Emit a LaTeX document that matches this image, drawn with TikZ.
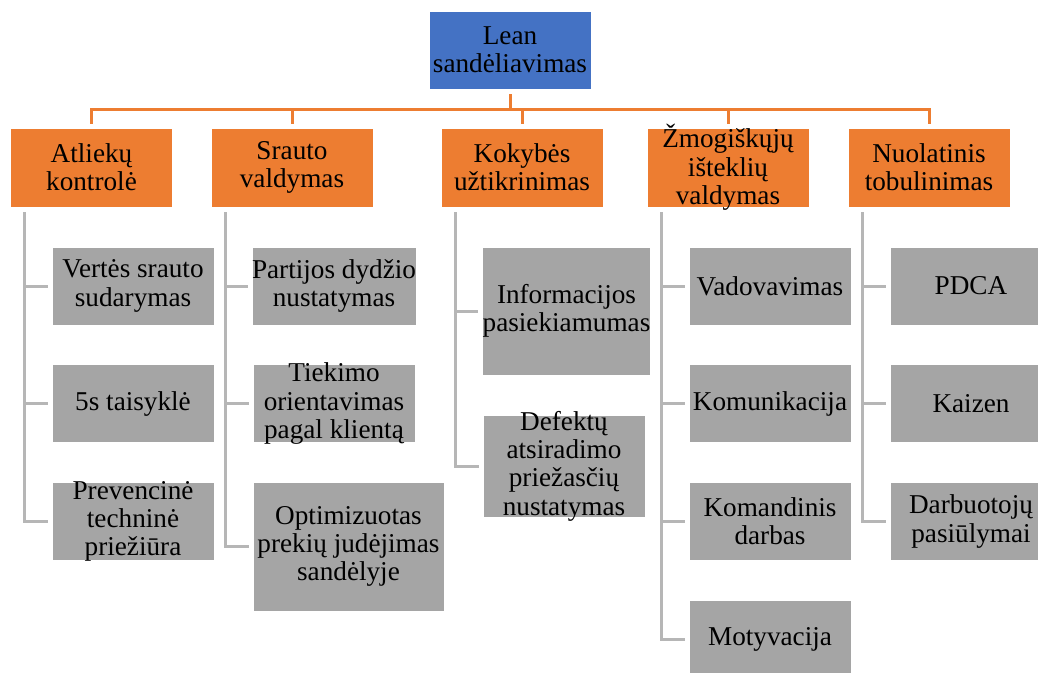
\documentclass[tikz,border=0pt]{standalone}
\usepackage{fontspec}
\setmainfont{Liberation Serif}
\usetikzlibrary{calc}
\definecolor{leanblue}{HTML}{4472C4}
\definecolor{leanorange}{HTML}{ED7D31}
\definecolor{leangrey}{HTML}{A5A5A5}
\definecolor{spinegrey}{RGB}{182,182,182}
\tikzset{
  box/.style={inner xsep=0pt, inner ysep=-4pt, align=center, draw=white, line width=0.6pt,
    minimum width=121.5pt, minimum height=58.5pt,
    font=\fontsize{20.4}{21.2}\selectfont},
  rootbox/.style={box, fill=leanblue},
  topic/.style={box, fill=leanorange, minimum height=59.25pt},
  item/.style={box, fill=leangrey},
  bus/.style={draw=leanorange, line width=2.25pt},
  spine/.style={draw=spinegrey, line width=2.25pt},
}
\begin{document}
\begin{tikzpicture}[x=0.75pt,y=-0.75pt]
  \path[use as bounding box, clip] (0,0) rectangle (1038,672);

  % virsune
  \node[rootbox] (root) at (510,50) {Lean\\sandėliavimas};

  % oranzines temos
  \node[topic] (a) at (91.5,167.5) {Atliekų\\kontrolė};
  \node[topic] (b) at (292,167.5) {Srauto\\valdymas};
  \node[topic] (c) at (522,167.5) {Kokybės\\užtikrinimas};
  \node[topic] (d) at (728,167.5) {Žmogiškųjų\\išteklių\\valdymas};
  \node[topic] (e) at (929,167.5) {Nuolatinis\\tobulinimas};

  % pilki punktai (stulpelis po stulpelio)
  \node[item] (a1) at (133,286) {Vertės srauto\\sudarymas};
  \node[item] (a2) at (133,403.5) {5s taisyklė};
  \node[item] (a3) at (133,521.5) {Prevencinė\\techninė\\priežiūra};

  \node[item] (b1) at (334,286) {Partijos dydžio\\nustatymas};
  \node[item] (b2) at (334,403.5) {Tiekimo\\orientavimas\\pagal klientą};
  \node[item, minimum width=143.25pt, minimum height=96.75pt] (b3) at (348.5,546.5) {Optimizuotas\\prekių judėjimas\\sandėlyje};

  \node[item, minimum width=125.25pt, minimum height=96pt] (c1) at (566.5,311) {Informacijos\\pasiekiamumas};
  \node[item, minimum height=76.5pt] (c2) at (564,466) {Defektų\\atsiradimo\\priežasčių\\nustatymas};

  \node[item] (d1) at (770,286) {Vadovavimas};
  \node[item] (d2) at (770,403.5) {Komunikacija};
  \node[item] (d3) at (770,521.5) {Komandinis\\darbas};
  \node[item] (d4) at (770,639.5) {Motyvacija};

  \node[item] (e1) at (971,286) {PDCA};
  \node[item] (e2) at (971,403.5) {Kaizen};
  \node[item] (e3) at (971,521.5) {Darbuotojų\\pasiūlymai};

  % oranzine magistrale
  \coordinate (bus) at (510,109);
  \draw[bus, shorten <=3.75pt] (root.south) -- (bus);
  \foreach \t in {a,b,c,d,e}
    \draw[bus, shorten >=3pt] (bus) -| (\t.north);

  % pilkos saknys
  \foreach \t/\last/\items in {a/a3/{a1,a2}, b/b3/{b1,b2}, c/c2/{c1}, d/d4/{d1,d2,d3}, e/e3/{e1,e2}} {
    \coordinate (s\t) at ($(\t.south west)+(14.5,5)$);
    \draw[spine, shorten >=3pt] (s\t) |- (\last.west);
    \foreach \n in \items
      \draw[spine, shorten >=3pt] (s\t |- \n.west) -- (\n.west);
  }
\end{tikzpicture}
\end{document}
